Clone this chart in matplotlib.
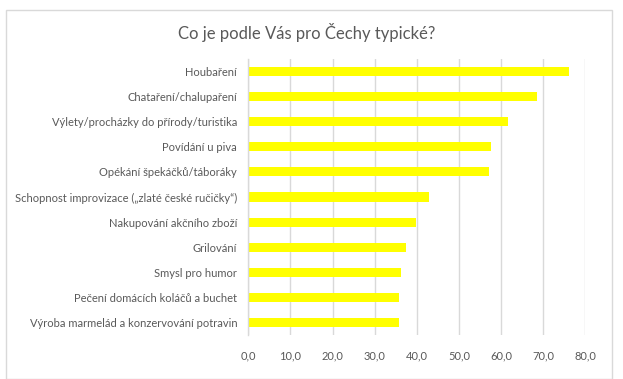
import matplotlib
matplotlib.use("Agg")
import matplotlib.pyplot as plt
from matplotlib.patches import Rectangle
from matplotlib.ticker import FuncFormatter

categories = [
    "Houbaření",
    "Chataření/chalupaření",
    "Výlety/procházky do přírody/turistika",
    "Povídání u piva",
    "Opékání špekáčků/táboráky",
    "Schopnost improvizace („zlaté české ručičky“)",
    "Nakupování akčního zboží",
    "Grilování",
    "Smysl pro humor",
    "Pečení domácích koláčů a buchet",
    "Výroba marmelád a konzervování potravin",
]
values = [76.1, 68.5, 61.6, 57.6, 57.1, 42.9, 39.8, 37.4, 36.3, 35.8, 35.8]
xticks = [0, 10, 20, 30, 40, 50, 60, 70, 80]

plt.rcParams["font.family"] = ["Lato", "DejaVu Sans"]
text_col = "#595959"
grid_col = "#D9D9D9"

fig = plt.figure(figsize=(6.23, 3.79), dpi=100)
ax = fig.add_axes([248.3 / 623, 44 / 379, 337 / 623, 276 / 379])

y = list(range(len(categories)))
ax.barh(y, values, height=0.36, color="#FFFF00", zorder=2)
ax.set_ylim(len(categories) - 0.5, -0.5)
ax.set_xlim(0, 80)
ax.set_yticks(y)
ax.set_yticklabels(categories, fontsize=8, color=text_col)
ax.set_xticks(xticks)
ax.xaxis.set_major_formatter(FuncFormatter(lambda v, _: f"{v:.1f}".replace(".", ",")))
ax.tick_params(axis="x", length=0, pad=11, labelsize=8, labelcolor=text_col)
ax.tick_params(axis="y", length=0, pad=8)
ax.grid(axis="x", color=grid_col, linewidth=1, zorder=0)
for s in ["top", "right", "bottom"]:
    ax.spines[s].set_visible(False)
ax.spines["left"].set_color(grid_col)
ax.spines["left"].set_linewidth(1)

fig.text(307 / 623, 1 - 33 / 379, "Co je podle Vás pro Čechy typické?", ha="center", va="center",
         fontsize=12, color=text_col)

fig.patches.append(Rectangle((6 / 623, 0), 606 / 623, 369 / 379, transform=fig.transFigure,
                             fill=False, edgecolor=grid_col, linewidth=1))

fig.savefig("out.png", dpi=100)
